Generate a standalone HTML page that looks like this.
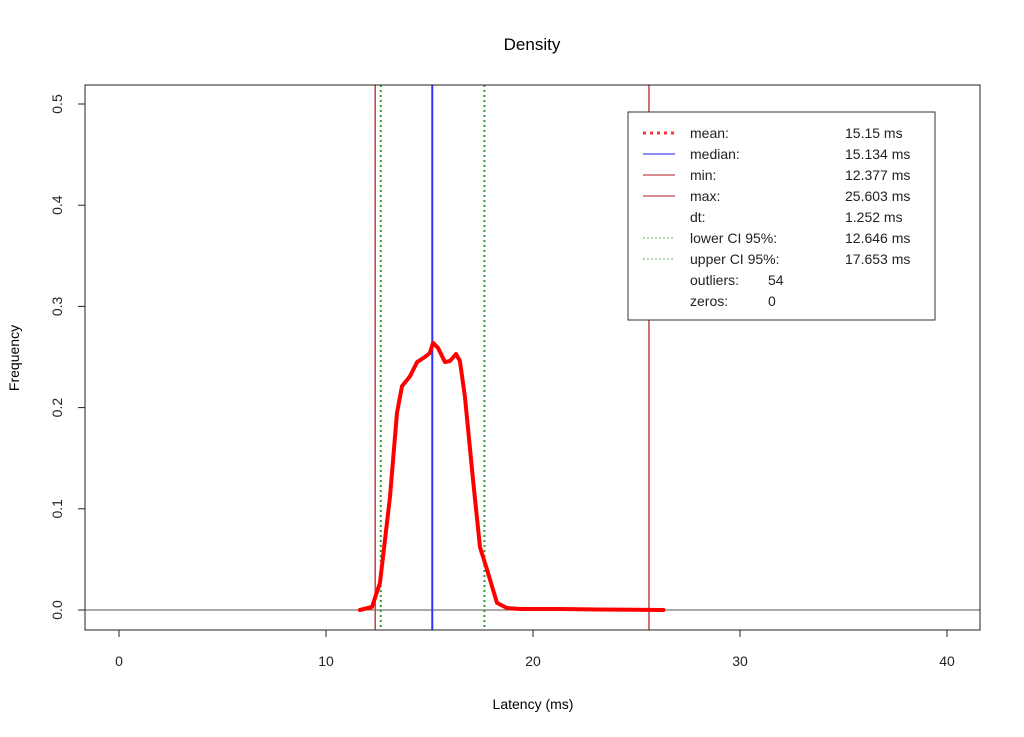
<!DOCTYPE html>
<html><head><meta charset="utf-8"><style>
body{margin:0;background:#fff;}
svg{display:block;font-family:"Liberation Sans",sans-serif;}
</style></head><body>
<svg id="chart" width="1024" height="737">
<text x="532" y="50" font-size="17" text-anchor="middle">Density</text>
<text x="533" y="709" font-size="14" text-anchor="middle">Latency (ms)</text>
<text transform="translate(19,358) rotate(-90)" font-size="14" text-anchor="middle">Frequency</text>
<g id="xaxis"></g>
<g id="yaxis"></g>
<g id="plot"></g>
<rect x="85" y="85" width="895" height="545" fill="none" stroke="#222" stroke-width="1"/>
<g>
<rect x="628" y="112" width="307" height="208" fill="#fff" stroke="#333" stroke-width="1"/>
<g font-size="14" fill="#222">
<line x1="643" y1="133" x2="675" y2="133" stroke="#f33" stroke-width="3" stroke-dasharray="3,4"/>
<text x="690" y="138">mean:</text><text x="845" y="138">15.15 ms</text>
<line x1="643" y1="154" x2="675" y2="154" stroke="#66f" stroke-width="1.5"/>
<text x="690" y="159">median:</text><text x="845" y="159">15.134 ms</text>
<line x1="643" y1="175" x2="675" y2="175" stroke="#c66" stroke-width="1.5"/>
<text x="690" y="180">min:</text><text x="845" y="180">12.377 ms</text>
<line x1="643" y1="196" x2="675" y2="196" stroke="#c66" stroke-width="1.5"/>
<text x="690" y="201">max:</text><text x="845" y="201">25.603 ms</text>
<text x="690" y="222">dt:</text><text x="845" y="222">1.252 ms</text>
<line x1="643" y1="238" x2="675" y2="238" stroke="#9c9" stroke-width="1.5" stroke-dasharray="2,2"/>
<text x="690" y="243">lower CI 95%:</text><text x="845" y="243">12.646 ms</text>
<line x1="643" y1="259" x2="675" y2="259" stroke="#9c9" stroke-width="1.5" stroke-dasharray="2,2"/>
<text x="690" y="264">upper CI 95%:</text><text x="845" y="264">17.653 ms</text>
<text x="690" y="285">outliers:</text><text x="768" y="285">54</text>
<text x="690" y="306">zeros:</text><text x="768" y="306">0</text>
</g></g>
</svg>
<script>
const xTicks=[0,10,20,30,40];
const yTicks=[0.0,0.1,0.2,0.3,0.4,0.5];
const densityX=[11.64,12.22,12.61,13.09,13.43,13.67,14.06,14.40,14.78,15.02,15.17,15.41,15.75,15.99,16.28,16.47,16.71,17.10,17.44,17.78,18.26,18.74,19.4,21.3,23.2,26.3];
const densityY=[0.0,0.003,0.027,0.112,0.195,0.221,0.231,0.245,0.250,0.254,0.264,0.259,0.245,0.246,0.253,0.246,0.211,0.129,0.062,0.040,0.007,0.002,0.001,0.001,0.0005,0.0];
const minVal=12.377, maxVal=25.603, medianVal=15.134, lowerCI=12.646, upperCI=17.653;
const NS="http://www.w3.org/2000/svg";
const sx=v=>119+v*20.7;
const sy=v=>610-v*1012;
function mk(tag,attrs,parent){const e=document.createElementNS(NS,tag);for(const k in attrs)e.setAttribute(k,attrs[k]);parent.appendChild(e);return e;}
const xa=document.getElementById('xaxis'),ya=document.getElementById('yaxis'),pl=document.getElementById('plot');
xTicks.forEach(t=>{
 const l=mk('line',{x1:sx(t),x2:sx(t),y1:630,y2:637,stroke:'#222'},xa);
 
 
 const tx=mk('text',{x:sx(t),y:666,'font-size':14,'text-anchor':'middle',fill:'#222'},xa);
 tx.textContent=t;
 
 
});
yTicks.forEach(t=>{
 const l=mk('line',{x1:78,x2:85,y1:sy(t),y2:sy(t),stroke:'#222'},ya);
 
 
 const tx=mk('text',{transform:`translate(62,${sy(t)}) rotate(-90)`,'font-size':14,'text-anchor':'middle',fill:'#222'},ya);
 tx.textContent=t.toFixed(1);
 
 
});
const z=mk('line',{x1:85,x2:980,y1:sy(0),y2:sy(0),stroke:'#555'},pl);


[[minVal,'min-line'],[maxVal,'max-line']].forEach(([v,n])=>{
 const l=mk('line',{x1:sx(v),x2:sx(v),y1:85,y2:630,stroke:'#b44','stroke-width':1.5},pl);
 
 
});
[[lowerCI,'lower-ci-line'],[upperCI,'upper-ci-line']].forEach(([v,n])=>{
 const l=mk('line',{x1:sx(v),x2:sx(v),y1:85,y2:630,stroke:'#393','stroke-width':2,'stroke-dasharray':'2,3'},pl);
 
 
});
const md=mk('line',{x1:sx(medianVal),x2:sx(medianVal),y1:85,y2:630,stroke:'#33f','stroke-width':2},pl);


const d=densityX.map((x,i)=>(i?'L':'M')+sx(x).toFixed(1)+','+sy(densityY[i]).toFixed(1)).join(' ');
const c=mk('path',{d:d,fill:'none',stroke:'#f00','stroke-width':4,'stroke-linejoin':'round','stroke-linecap':'round'},pl);


</script>
</body></html>
